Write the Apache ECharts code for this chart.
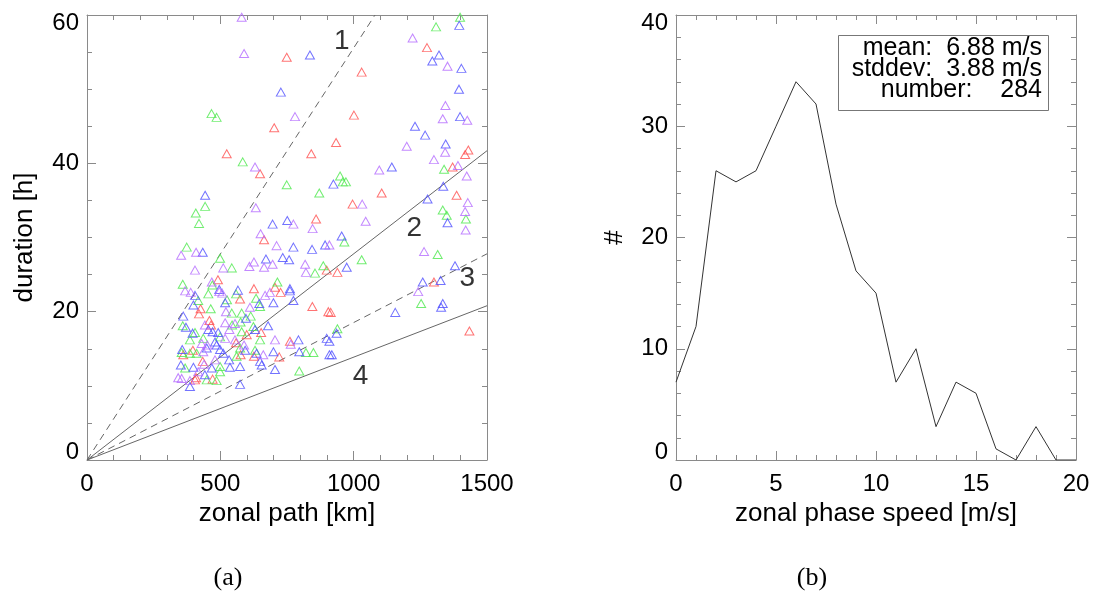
<!DOCTYPE html>
<html><head><meta charset="utf-8">
<script src="https://cdn.jsdelivr.net/npm/echarts@6/dist/echarts.min.js"></script>
<style>html,body{margin:0;padding:0;background:#fff}#c{width:1096px;height:594px}</style>
</head><body><div id="c"></div>
<script>
// ---- panel (a): zonal path [km] vs duration [h]
const redPts = [[749,54.3],[702,44.8],[524,41.3],[841,41.3],[1275,55.6],[1030,52.3],[1001,46.5],[934,42.8],[1430,41.8],[1418,41.2],[1371,39.5],[1105,36.0],[1386,35.7],[996,34.5],[649,38.6],[859,32.5],[664,29.7],[899,25.6],[705,23.3],[626,23.1],[939,25.3],[1301,24.0],[914,19.9],[1434,17.4],[574,21.7],[426,20.4],[459,18.8],[361,14.2],[576,14.2],[434,13.3],[409,11.1],[405,10.8],[471,10.9],[726,22.6],[845,20.7],[905,20.0],[653,17.2],[721,13.9],[761,16.0],[599,16.9],[465,18.2],[559,15.8],[420,19.7],[626,14.0],[397,14.8],[491,24.3]];
const greenPts = [[467,46.7],[486,46.2],[584,40.2],[1399,59.7],[1309,58.4],[1339,39.2],[949,38.3],[959,37.5],[971,37.5],[1334,33.7],[1349,33.0],[1421,32.5],[965,29.4],[1315,27.7],[1030,27.0],[1253,21.1],[939,17.7],[749,37.1],[871,36.0],[886,26.2],[855,25.2],[714,24.0],[443,34.2],[408,33.3],[420,31.9],[374,28.7],[499,27.2],[543,25.9],[359,23.7],[470,23.6],[455,22.4],[559,22.4],[417,21.5],[464,20.4],[359,18.1],[543,19.8],[580,19.8],[576,18.6],[436,16.4],[580,17.3],[355,14.5],[386,14.4],[411,14.4],[574,15.1],[561,14.0],[368,12.4],[499,12.6],[449,10.8],[486,10.7],[649,20.7],[614,19.4],[624,18.0],[630,14.8],[821,14.5],[849,14.5],[796,12.0],[405,17.2],[499,16.6],[544,18.2],[386,16.2],[499,11.9],[649,16.2],[525,21.6],[634,21.8]];
const bluePts = [[836,54.6],[727,49.6],[1396,58.6],[1320,54.6],[1295,53.8],[1404,52.8],[1395,50.0],[1399,46.3],[1230,45.0],[1268,43.8],[1345,42.6],[1143,39.5],[924,37.2],[1336,36.9],[1277,35.2],[1352,32.0],[955,30.2],[1380,26.2],[974,26.0],[1259,24.0],[1326,24.2],[1334,21.1],[1328,20.6],[1156,19.9],[936,17.1],[918,14.2],[909,16.0],[696,31.8],[751,32.3],[774,28.7],[844,28.4],[893,29.0],[671,27.1],[734,27.3],[758,27.0],[761,23.1],[443,35.7],[434,28.0],[496,23.0],[399,20.9],[518,21.2],[361,19.4],[455,17.6],[396,17.1],[471,17.3],[492,17.2],[480,15.9],[449,15.1],[499,14.9],[511,14.4],[593,14.8],[399,12.5],[468,12.4],[536,12.5],[574,12.6],[574,10.2],[386,9.9],[761,22.8],[646,21.1],[699,21.2],[774,21.5],[630,17.6],[636,14.4],[699,14.6],[793,16.2],[796,14.6],[899,16.4],[909,14.2],[649,13.3],[655,12.8],[705,12.2],[405,22.2],[357,14.9],[486,15.5],[596,19.1],[533,13.5],[371,17.9],[352,12.8],[679,18.1],[442,11.5],[566,22.9]];
const purplePts = [[580,59.7],[589,54.8],[780,46.3],[630,39.5],[1221,56.9],[1352,53.1],[1344,47.8],[1334,46.0],[1426,45.8],[1199,42.3],[1343,41.5],[1301,40.5],[1096,39.1],[1391,39.7],[1424,38.3],[1032,34.5],[1428,34.7],[1418,33.5],[1045,32.2],[1420,31.0],[909,29.0],[1264,28.1],[1242,22.7],[633,34.0],[774,31.8],[846,31.2],[651,30.5],[711,28.9],[626,26.7],[696,26.4],[664,26.0],[818,26.4],[821,25.3],[353,27.6],[409,28.0],[511,25.9],[609,26.1],[468,24.0],[368,22.8],[496,22.7],[518,18.5],[555,18.4],[534,17.6],[430,15.7],[518,16.4],[555,16.2],[436,14.6],[342,11.1],[417,11.9],[386,10.7],[668,22.2],[686,22.6],[764,15.6],[661,14.2],[389,22.6],[507,22.5],[451,15.5],[439,12.9],[355,11.0],[521,20.0],[611,20.6],[480,13.5],[442,18.2],[589,15.5],[705,16.2],[405,25.6]];
// reference speed lines (endpoints in data units)
const line1 = [[0,0],[1080,60]];
const line2 = [[0,0],[1500,41.7]];
const line3 = [[0,0],[1500,27.8]];
const line4 = [[0,0],[1500,20.8]];
const lineLabelText = ['1','2','3','4'];
const lineLabelX = [955,1227,1426,1026];
const lineLabelY = [56.4,31.2,24.5,11.3];
// ---- panel (b): histogram of zonal phase speed
const speeds = [0,1,2,3,4,5,6,7,8,9,10,11,12,13,14,15,16,17,18,19,20];
const counts = [7,12,26,25,26,30,34,32,23,17,15,7,10,3,7,6,1,0,3,0,0];
const statLines = ['mean:  6.88 m/s','stddev:  3.88 m/s','number:    284'];

const FONT = 'Liberation Sans, Arial, Helvetica, sans-serif';
const AX = '#8a8a8a';
const C = {red:'#ff5050', green:'#4ee84e', blue:'#5050ff', purple:'#b46cff'};
const TICKFS = 24;

function ax(type, grid, pos, min, max, interval, minorSplit, labels, extra) {
  const a = {
    type: 'value', gridIndex: grid, position: pos, min: min, max: max, interval: interval,
    axisLine: {show: true, onZero: false, lineStyle: {color: AX, width: 1}},
    axisTick: {show: true, inside: true, length: 9, lineStyle: {color: AX}},
    minorTick: {show: true, splitNumber: minorSplit, length: 5, lineStyle: {color: AX}},
    splitLine: {show: false},
    axisLabel: {show: labels, color: '#000', fontFamily: FONT, fontSize: TICKFS, margin: 12,
      formatter: function (v) { return String(v); }}
  };
  return Object.assign(a, extra || {});
}
function yLabel(maxV) {
  return {
    show: true, color: '#000', fontFamily: FONT, fontSize: TICKFS, margin: 8,
    formatter: function (v) {
      if (v === maxV) return '{hi|' + v + '}';
      if (v === 0) return '{lo|' + v + '}';
      return '{m|' + v + '}';
    },
    rich: {
      hi: {fontFamily: FONT, fontSize: TICKFS, color: '#000', padding: [16,0,0,0]},
      lo: {fontFamily: FONT, fontSize: TICKFS, color: '#000', padding: [0,0,16,0]},
      m: {fontFamily: FONT, fontSize: TICKFS, color: '#000'}
    }
  };
}
const nameStyle = {fontFamily: FONT, fontSize: 26, color: '#000'};

function tri(data, color) {
  return {type: 'scatter', xAxisIndex: 0, yAxisIndex: 0, data: data, symbol: 'triangle', symbolSize: [9,8],
    itemStyle: {color: 'rgba(0,0,0,0)', borderColor: color, borderWidth: 1}, silent: true, z: 3};
}
function refLine(data, dashed) {
  return {type: 'line', xAxisIndex: 0, yAxisIndex: 0, data: data, symbol: 'none', silent: true,
    lineStyle: {color: '#666', width: 1, type: dashed ? [7,5] : 'solid'}, z: 2};
}

const chart = echarts.init(document.getElementById('c'), null, {renderer: 'canvas'});
chart.setOption({
  animation: false,
  backgroundColor: '#fff',
  grid: [
    {left: 87, top: 15, width: 400, height: 445},
    {left: 676, top: 15, width: 400, height: 445}
  ],
  xAxis: [
    ax('x', 0, 'bottom', 0, 1500, 500, 5, true, {name: 'zonal path [km]', nameLocation: 'middle', nameGap: 41, nameTextStyle: nameStyle}),
    ax('x', 0, 'top', 0, 1500, 500, 5, false),
    ax('x', 1, 'bottom', 0, 20, 5, 5, true, {name: 'zonal phase speed [m/s]', nameLocation: 'middle', nameGap: 41, nameTextStyle: nameStyle}),
    ax('x', 1, 'top', 0, 20, 5, 5, false)
  ],
  yAxis: [
    ax('y', 0, 'left', 0, 60, 20, 4, true, {name: 'duration [h]', nameLocation: 'middle', nameGap: 49, nameTextStyle: nameStyle, axisLabel: yLabel(60)}),
    ax('y', 0, 'right', 0, 60, 20, 4, false),
    ax('y', 1, 'left', 0, 40, 10, 5, true, {name: '#', nameLocation: 'middle', nameGap: 48, nameTextStyle: nameStyle, axisLabel: yLabel(40)}),
    ax('y', 1, 'right', 0, 40, 10, 5, false)
  ],
  series: [
    refLine(line1, true), refLine(line2, false), refLine(line3, true), refLine(line4, false),
    tri(redPts, C.red), tri(greenPts, C.green), tri(bluePts, C.blue), tri(purplePts, C.purple),
    {type: 'scatter', xAxisIndex: 0, yAxisIndex: 0, symbolSize: 0, silent: true, z: 4,
     data: lineLabelText.map((t, i) => ({name: t, value: [lineLabelX[i], lineLabelY[i]]})),
     label: {show: true, position: 'inside', formatter: '{b}', fontFamily: FONT, fontSize: 28, color: '#000'}},
    {type: 'line', xAxisIndex: 2, yAxisIndex: 2, symbol: 'none', silent: true,
     data: speeds.map((s, i) => [s, counts[i]]),
     lineStyle: {color: '#333', width: 1}}
  ],
  graphic: [
    {type: 'rect', shape: {x: 838.5, y: 35.5, width: 210, height: 75}, style: {fill: 'none', stroke: '#777', lineWidth: 1}},
    {type: 'text', x: 1042, y: 48, style: {text: statLines[0], textAlign: 'right', textVerticalAlign: 'middle', font: '25px ' + FONT, fill: '#000'}},
    {type: 'text', x: 1042, y: 69, style: {text: statLines[1], textAlign: 'right', textVerticalAlign: 'middle', font: '25px ' + FONT, fill: '#000'}},
    {type: 'text', x: 1042, y: 90, style: {text: statLines[2], textAlign: 'right', textVerticalAlign: 'middle', font: '25px ' + FONT, fill: '#000'}},
    {type: 'text', x: 228, y: 578, style: {text: '(a)', textAlign: 'center', textVerticalAlign: 'middle', font: '26px "Liberation Serif", "Times New Roman", serif', fill: '#000'}},
    {type: 'text', x: 812, y: 578, style: {text: '(b)', textAlign: 'center', textVerticalAlign: 'middle', font: '26px "Liberation Serif", "Times New Roman", serif', fill: '#000'}}
  ]
});
</script></body></html>
